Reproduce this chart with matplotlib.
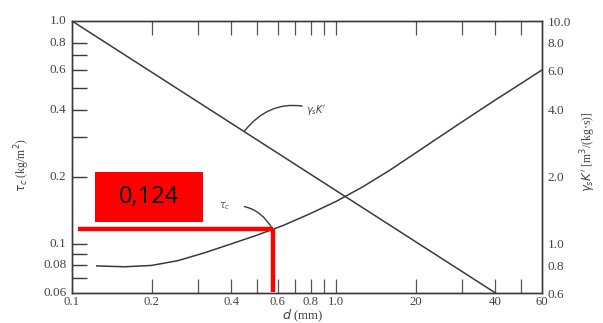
import matplotlib
matplotlib.use("Agg")
import matplotlib.pyplot as plt
from matplotlib.patches import Rectangle
from matplotlib import ticker

# Data (d in mm)
tau_d = [0.124, 0.158, 0.200, 0.251, 0.316, 0.398, 0.501, 0.631, 0.794, 1.0,
         1.259, 1.585, 1.995, 2.512, 3.162, 3.981, 5.012, 6.0]
tau_c = [0.0794, 0.0787, 0.0798, 0.0838, 0.0908, 0.0995, 0.1091, 0.1208, 0.1361, 0.1549,
         0.1799, 0.2128, 0.2553, 0.3069, 0.3681, 0.4406, 0.5248, 0.6026]
gk_d = [0.1, 4.0]
gk_val = [10.0, 0.6]

read_d = 0.574
read_tau = 0.116
read_text = "0,124"

x_ticks = [0.1, 0.2, 0.4, 0.6, 0.8, 1.0, 2.0, 4.0, 6.0]
x_labels = ["0.1", "0.2", "0.4", "0.6", "0.8", "1.0", "20", "40", "60"]
x_minor = [0.2, 0.3, 0.4, 0.5, 0.6, 0.7, 0.8, 0.9, 1.0, 2.0, 3.0, 4.0, 5.0]
yl_ticks = [0.06, 0.08, 0.1, 0.2, 0.4, 0.6, 0.8, 1.0]
yl_labels = ["0.06", "0.08", "0.1", "0.2", "0.4", "0.6", "0.8", "1.0"]
yl_minor = [0.07, 0.08, 0.09, 0.1, 0.2, 0.3, 0.4, 0.5, 0.6, 0.7, 0.8]
yr_ticks = [0.6, 0.8, 1.0, 2.0, 4.0, 6.0, 8.0, 10.0]
yr_labels = ["0.6", "0.8", "1.0", "2.0", "4.0", "6.0", "8.0", "10.0"]

ink = "#3a3a3a"
serif = ["Liberation Serif", "DejaVu Serif"]
plt.rcParams["font.family"] = serif

fig = plt.figure(figsize=(6.03, 3.23), dpi=100)
ax = fig.add_axes([72/603, 1-293/323, (542-72)/603, (293-21)/323])
ax.set_xscale("log")
ax.set_yscale("log")
ax.set_xlim(0.1, 6.0)
ax.set_ylim(0.06, 1.0)

ax2 = ax.twinx()
ax2.set_yscale("log")
ax2.set_ylim(0.6, 10.0)

for a in (ax, ax2):
    for s in a.spines.values():
        s.set_color(ink)
        s.set_linewidth(1.0)

# Left axis ticks
ax.yaxis.set_major_locator(ticker.FixedLocator(yl_minor))
ax.yaxis.set_major_formatter(ticker.NullFormatter())
ax.yaxis.set_minor_locator(ticker.NullLocator())
ax.tick_params(axis="y", which="major", direction="in", length=11, width=1.0, color=ink,
               left=True, right=False, labelleft=False)
for v, t in zip(yl_ticks, yl_labels):
    ax.annotate(t, xy=(0, v), xycoords=("axes fraction", "data"), xytext=(-4, 0),
                textcoords="offset points", ha="right", va="center", fontsize=9.5, color="#444")

# x ticks (inside, top and bottom)
ax.xaxis.set_major_locator(ticker.FixedLocator(x_minor))
ax.xaxis.set_major_formatter(ticker.NullFormatter())
ax.xaxis.set_minor_locator(ticker.NullLocator())
ax.tick_params(axis="x", which="both", direction="in", length=10, width=0.9, color="#555",
               top=True, bottom=True, labelbottom=False, labeltop=False)
for v, t in zip(x_ticks, x_labels):
    ax.annotate(t, xy=(v, 0), xycoords=("data", "axes fraction"), xytext=(0, -2.5),
                textcoords="offset points", ha="center", va="top", fontsize=9.2, color="#444")

ax.text(0.49, -0.085, "$d$ (mm)", transform=ax.transAxes, ha="center", va="center",
        fontsize=9.2, color="#444")
fig.text(0.037, 0.49, r"$\tau_c$ (kg/m$^2$)", rotation=90, ha="center", va="center",
         fontsize=8.5, color="#444")

# Right axis
ax2.yaxis.set_major_locator(ticker.FixedLocator(yr_ticks))
ax2.yaxis.set_major_formatter(ticker.FixedFormatter(yr_labels))
ax2.yaxis.set_minor_locator(ticker.NullLocator())
ax2.tick_params(axis="y", which="both", length=0, pad=4, labelsize=9.5, labelcolor="#444")
fig.text(0.975, 0.53, r"$\gamma_s K'$ [m$^3$/(kg$\cdot$s)]", rotation=90, ha="center",
         va="center", fontsize=8.5, color="#444")

# Curves
ax.plot(tau_d, tau_c, color=ink, lw=1.1, zorder=3)
ax2.plot(gk_d, gk_val, color=ink, lw=1.1, zorder=3)

# Curve labels with leader arcs
ax.annotate(r"$\gamma_s K'$", xy=(0.45, 0.321), xytext=(0.77, 0.40),
            fontsize=7, color="#444", va="center", ha="left",
            arrowprops=dict(arrowstyle="-", color=ink, lw=1.0, shrinkA=1, shrinkB=0,
                            connectionstyle="arc3,rad=0.35"))
ax.annotate(r"$\tau_c$", xy=(read_d, read_tau), xytext=(0.36, 0.147),
            fontsize=7, color="#555", va="center", ha="left",
            arrowprops=dict(arrowstyle="-", color=ink, lw=1.0, shrinkA=8, shrinkB=0,
                            connectionstyle="arc3,rad=-0.35"))

# Red reading lines and box
ax.plot([0.105, read_d], [read_tau, read_tau], color="#ff0000", lw=3.2, zorder=5,
        solid_capstyle="butt")
ax.plot([read_d, read_d], [read_tau, 0.0605], color="#ff0000", lw=3.2, zorder=5,
        solid_capstyle="butt")
box_l, box_b, box_w, box_h = 95/603, 1-222/323, 108/603, 50/323
fig.patches.append(Rectangle((box_l, box_b), box_w, box_h, transform=fig.transFigure,
                             facecolor="#ff0000", edgecolor="none", zorder=6))
fig.text(box_l + box_w/2, box_b + box_h/2, read_text, ha="center", va="center",
         fontsize=17, color="black", family=["Open Sans", "DejaVu Sans"], zorder=7)

fig.savefig("out.png", dpi=100)
